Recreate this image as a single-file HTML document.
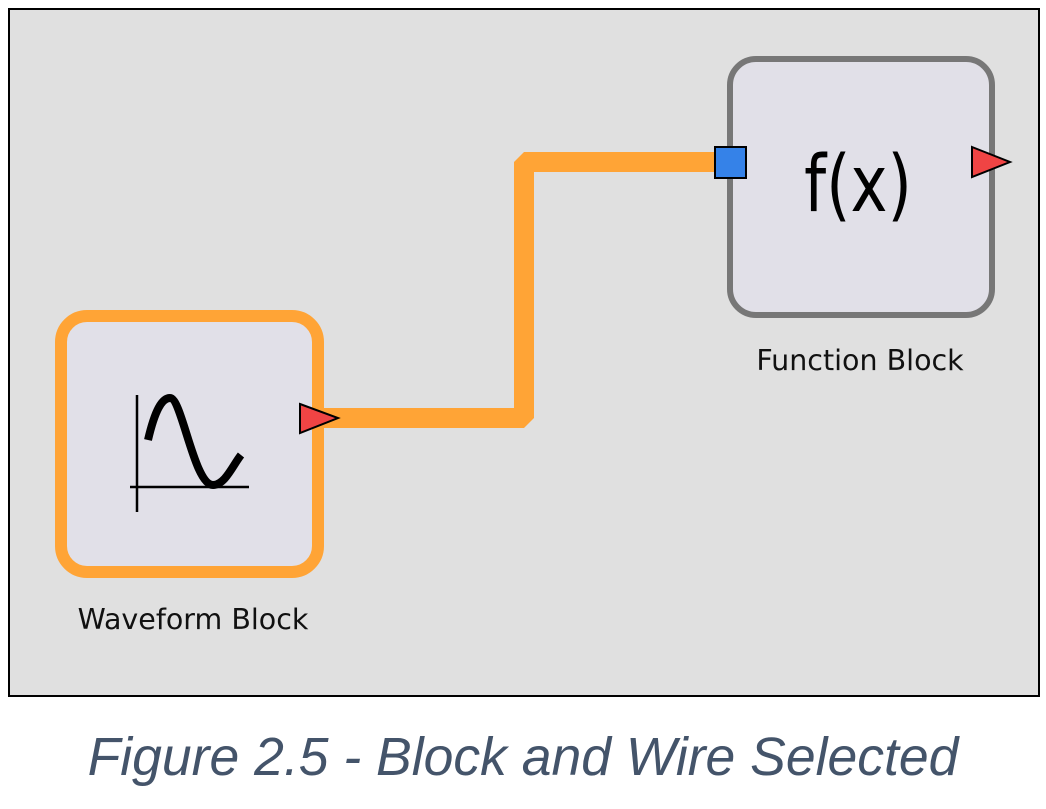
<!DOCTYPE html>
<html><head><style>
body{margin:0;background:#fff;width:1046px;height:809px;overflow:hidden;position:relative}
.cap{position:absolute;left:0;width:1046px;top:727px;text-align:center;font-family:"Liberation Sans",sans-serif;font-style:italic;font-size:53.5px;color:#44546a}
.lbl{font-family:"DejaVu Sans","Liberation Sans",sans-serif;font-size:28.5px;fill:#111}
</style></head><body>
<svg width="1046" height="809" style="position:absolute;left:0;top:0">
<rect x="9" y="9" width="1030" height="687" fill="#e0e0e0" stroke="#000" stroke-width="2"/>
<polyline points="316,418 524,418 524,162 716,162" fill="none" stroke="#ffa436" stroke-width="20" stroke-linejoin="bevel"/>
<rect x="61" y="316" width="257" height="256" rx="26" fill="#e1e0e8" stroke="#ffa436" stroke-width="12"/>
<line x1="137" y1="395" x2="137" y2="512" stroke="#000" stroke-width="2.5"/>
<line x1="130" y1="487" x2="249" y2="487" stroke="#000" stroke-width="2.5"/>
<path d="M148,440 C155,410 162,398 170,398 C182,398 194,485 213,485 C225,485 233,465 241,455" fill="none" stroke="#000" stroke-width="8" stroke-linecap="butt"/>
<polygon points="300,404 338,418 300,433" fill="#f04444" stroke="#000" stroke-width="2"/>
<rect x="730" y="59" width="262" height="256" rx="26" fill="#e1e0e8" stroke="#777" stroke-width="6"/>
<rect x="715" y="147" width="31" height="31" fill="#3582e8" stroke="#000" stroke-width="2"/>
<polygon points="972,147 1010,162 972,177" fill="#f04444" stroke="#000" stroke-width="2"/>
<text transform="translate(858,211) scale(0.92,1.15)" text-anchor="middle" font-family="DejaVu Sans,Liberation Sans,sans-serif" font-size="68" fill="#000">f(x)</text>
<text class="lbl" x="860" y="370" text-anchor="middle">Function Block</text>
<text class="lbl" x="193" y="629" text-anchor="middle">Waveform Block</text>
</svg>
<div class="cap">Figure 2.5 - Block and Wire Selected</div>
</body></html>
